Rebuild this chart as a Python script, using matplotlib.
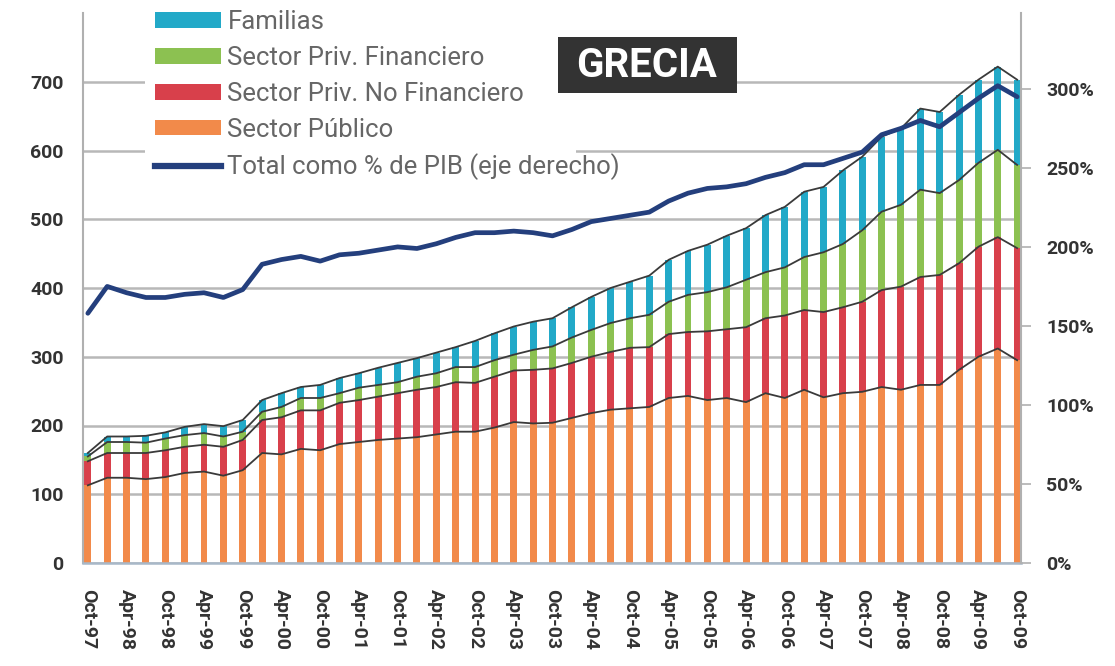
import matplotlib
matplotlib.use('Agg')
import matplotlib.pyplot as plt
import numpy as np
from matplotlib.patches import Patch, Rectangle
from matplotlib.lines import Line2D

# ---------------- data ----------------
tick_labels = ['Oct-97', 'Apr-98', 'Oct-98', 'Apr-99', 'Oct-99', 'Apr-00', 'Oct-00',
               'Apr-01', 'Oct-01', 'Apr-02', 'Oct-02', 'Apr-03', 'Oct-03', 'Apr-04',
               'Oct-04', 'Apr-05', 'Oct-05', 'Apr-06', 'Oct-06', 'Apr-07', 'Oct-07',
               'Apr-08', 'Oct-08', 'Apr-09', 'Oct-09']

sector_publico = [113, 124, 124, 122, 125, 131, 133, 127, 135, 160, 158, 166, 164, 173,
                  176, 179, 181, 183, 187, 191, 191, 197, 205, 203, 204, 211, 218, 223,
                  225, 227, 240, 243, 237, 240, 234, 247, 240, 252, 241, 247, 249, 256,
                  252, 259, 259, 281, 300, 312, 295]
priv_no_financiero = [35, 36, 36, 38, 39, 38, 39, 42, 44, 48, 54, 56, 58, 60, 61, 63, 66,
                      69, 69, 72, 71, 74, 75, 78, 79, 80, 82, 84, 88, 87, 93, 93, 100,
                      100, 109, 109, 120, 116, 124, 125, 131, 141, 150, 157, 160, 155,
                      160, 162, 163]
priv_financiero = [7, 16, 16, 15, 17, 17, 17, 15, 12, 12, 15, 18, 18, 14, 18, 17, 16, 19,
                   20, 22, 23, 24, 23, 29, 32, 37, 39, 42, 43, 47, 47, 54, 57, 61, 69, 67,
                   70, 77, 87, 92, 104, 114, 119, 127, 119, 121, 122, 127, 121]
familias = [5, 8, 8, 10, 9, 12, 13, 15, 17, 17, 20, 16, 19, 22, 21, 25, 28, 27, 30, 29,
            38, 39, 41, 41, 41, 44, 48, 51, 53, 57, 61, 64, 69, 75, 75, 83, 88, 95, 95,
            107, 107, 109, 111, 118, 118, 124, 121, 121, 124]
total_pct_pib = [158, 175, 171, 168, 168, 170, 171, 168, 173, 189, 192, 194, 191, 195,
                 196, 198, 200, 199, 202, 206, 209, 209, 210, 209, 207, 211, 216, 218,
                 220, 222, 229, 234, 237, 238, 240, 244, 247, 252, 252, 256, 260, 271,
                 275, 280, 276, 285, 294, 302, 295]

series_names = ['Familias', 'Sector Priv. Financiero', 'Sector Priv. No Financiero',
                'Sector Público']
line_name = 'Total como % de PIB (eje derecho)'

# ---------------- style ----------------
c_fam = '#22a9c8'
c_fin = '#8cc151'
c_nof = '#d8404b'
c_pub = '#f28a4a'
c_line = '#243f7d'
c_edge = '#3a3a3a'

plt.rcParams['font.family'] = ['Roboto', 'DejaVu Sans']

fig = plt.figure(figsize=(11.15, 6.66), dpi=100)
ax = fig.add_axes([83 / 1115, 1 - 563 / 666, (1021 - 83) / 1115, 550 / 666])

n = len(sector_publico)
x = np.arange(n)
pub = np.array(sector_publico, float)
nof = np.array(priv_no_financiero, float)
fin = np.array(priv_financiero, float)
fam = np.array(familias, float)

w = 0.36
ax.bar(x, pub, width=w, color=c_pub, zorder=2)
ax.bar(x, nof, width=w, bottom=pub, color=c_nof, zorder=2)
ax.bar(x, fin, width=w, bottom=pub + nof, color=c_fin, zorder=2)
ax.bar(x, fam, width=w, bottom=pub + nof + fin, color=c_fam, zorder=2)

for lvl in [pub, pub + nof, pub + nof + fin, pub + nof + fin + fam]:
    ax.plot(x, lvl, color=c_edge, lw=1.3, zorder=3)

ax.set_xlim(-0.25, n - 1 + 0.2)
ax.set_ylim(0, 800)
ax.set_yticks(np.arange(0, 800, 100))
ax.set_yticklabels([str(v) for v in range(0, 800, 100)])
ax.yaxis.grid(True, color='#b8b8b8', lw=1.8, zorder=0)
ax.set_axisbelow(True)
ax.set_xticks(x[::2])
ax.set_xticklabels(tick_labels, rotation=-90)
ax.tick_params(axis='x', length=0, pad=19, labelsize=14, labelcolor='#333333')
ax.tick_params(axis='y', length=0, pad=14, labelsize=14, labelcolor='#333333')
for lab in ax.get_xticklabels() + ax.get_yticklabels():
    lab.set_fontweight('bold')
ax.spines['top'].set_visible(False)
ax.spines['right'].set_visible(False)
ax.spines['left'].set_color('#b0b0b0')
ax.spines['left'].set_linewidth(1.5)
ax.spines['bottom'].set_color('#a8b8c8')
ax.spines['bottom'].set_linewidth(1.8)

ax2 = ax.twinx()
ax2.plot(x, np.array(total_pct_pib) / 100.0, color=c_line, lw=3.4, zorder=4,
         solid_capstyle='round', solid_joinstyle='round')
ax2.set_ylim(0, 3.48)
ax2.set_yticks(np.arange(0, 3.01, 0.5))
ax2.set_yticklabels(['0%', '50%', '100%', '150%', '200%', '250%', '300%'])
ax2.tick_params(axis='y', length=7, width=1.2, color='#b0b0b0', pad=11,
                labelsize=14, labelcolor='#333333')
for lab in ax2.get_yticklabels():
    lab.set_fontweight('bold')
for s in ['top', 'left', 'bottom']:
    ax2.spines[s].set_visible(False)
ax2.spines['right'].set_color('#b0b0b0')
ax2.spines['right'].set_linewidth(1.5)

# white background behind the legend (hides gridlines there)
ax2.add_patch(Rectangle(((145 - 83) / 938, (563 - 188) / 550), (576 - 145) / 938,
                        188 / 550, transform=ax2.transAxes, facecolor='white',
                        edgecolor='none', zorder=5, clip_on=False))

handles = [Patch(facecolor=c_fam, edgecolor='none'),
           Patch(facecolor=c_fin, edgecolor='none'),
           Patch(facecolor=c_nof, edgecolor='none'),
           Patch(facecolor=c_pub, edgecolor='none'),
           Line2D([0], [0], color=c_line, lw=4.5)]
leg = ax2.legend(handles, series_names + [line_name], loc='upper left',
                 bbox_to_anchor=(0.0768, 1.005), fontsize=18.5, frameon=False,
                 handlelength=2.55, handleheight=0.56, handletextpad=0.27,
                 labelspacing=0.46, borderpad=0, borderaxespad=0)
leg.set_zorder(6)
for t in leg.get_texts():
    t.set_color('#666666')

# title box
fig.patches.append(Rectangle((558 / 1115, 1 - 93 / 666), (737 - 558) / 1115, 56 / 666,
                             transform=fig.transFigure, facecolor='#333333',
                             edgecolor='none', zorder=10))
fig.text(647 / 1115, 1 - 66 / 666, 'GRECIA', color='white', fontsize=29,
         fontweight='bold', ha='center', va='center', zorder=11)

fig.savefig('out.png', dpi=100)
